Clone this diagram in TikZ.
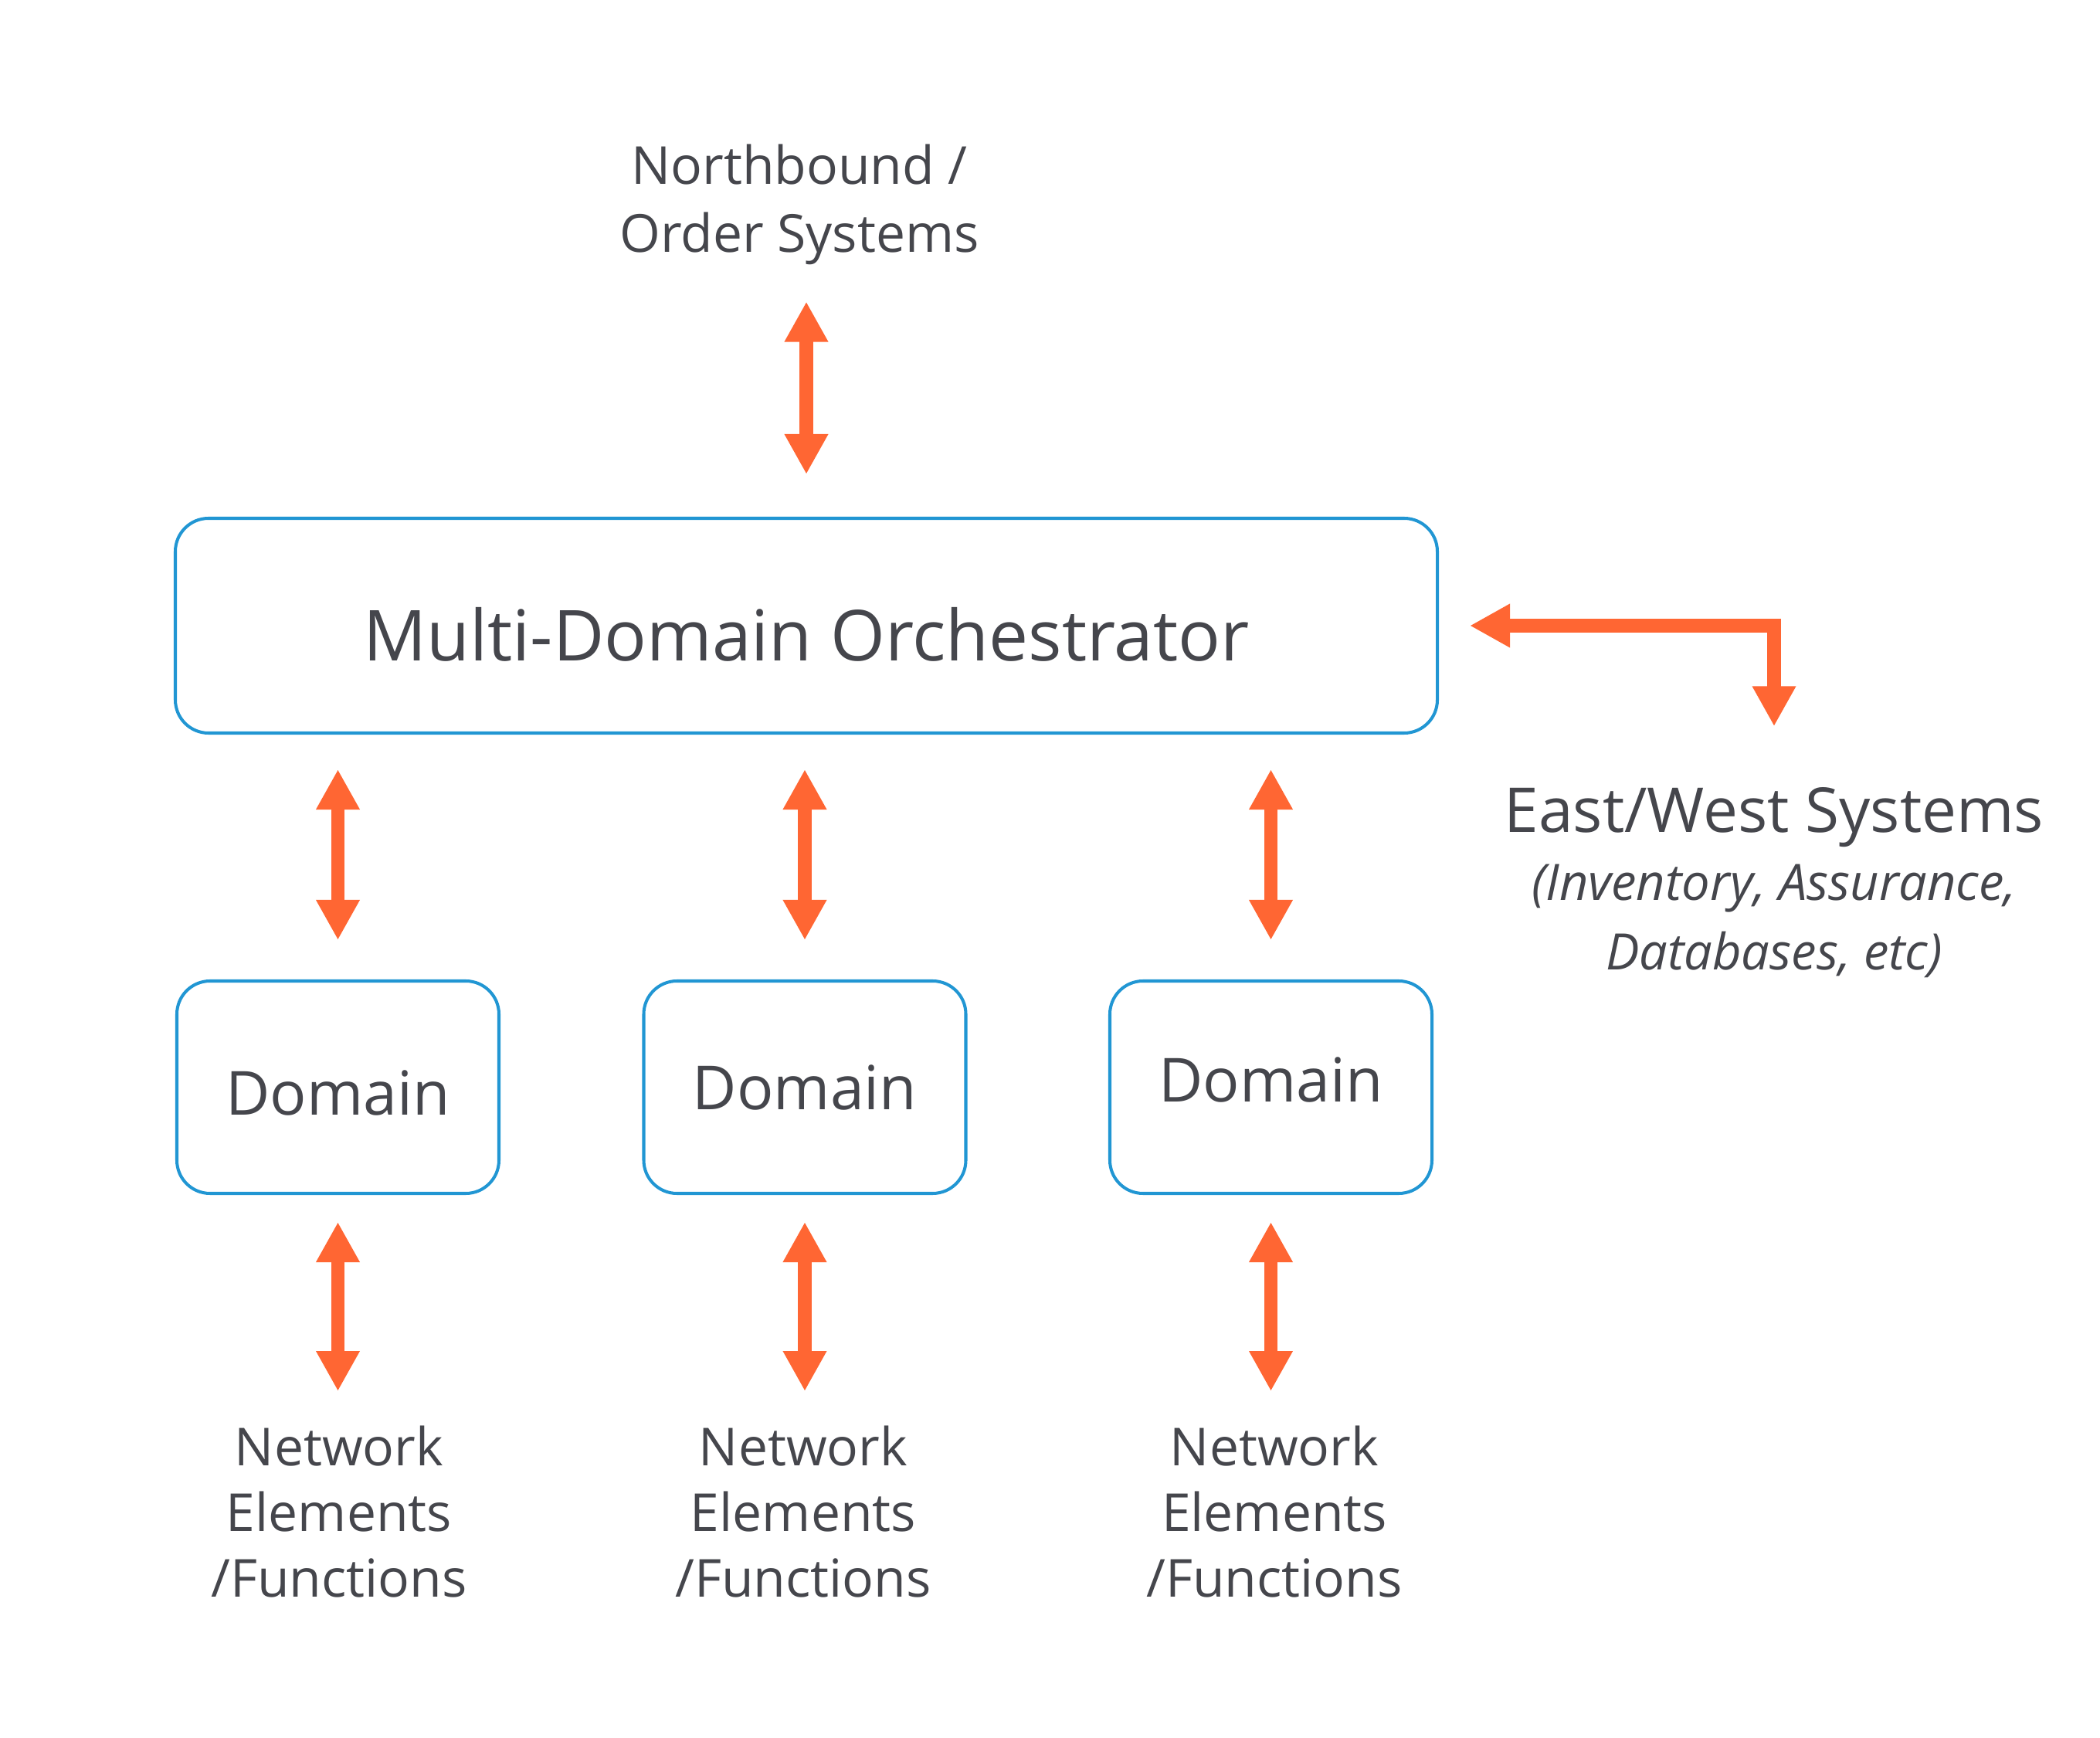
\documentclass[tikz,border=0pt]{standalone}
\usepackage{fontspec}
\setmainfont{Open Sans}
\usetikzlibrary{arrows.meta}
\definecolor{mdoblue}{HTML}{2196D3}
\definecolor{mdoorange}{HTML}{FF6633}
\definecolor{mdotext}{HTML}{45464C}
\tikzset{
  sysbox/.style={draw=mdoblue, line width=1.15pt, rounded corners=0.43cm,
    text=mdotext, inner sep=0pt},
  dombox/.style={sysbox, minimum width=4.17cm, minimum height=2.75cm,
    font=\fontsize{22.4}{26}\selectfont},
  biarrow/.style={draw=mdoorange, line width=5.1pt,
    {Triangle[length=5.2mm,width=5.3mm]}-{Triangle[length=5.2mm,width=5.3mm]}},
  lbl/.style={text=mdotext, align=center, inner sep=0pt},
  netlbl/.style={lbl, anchor=north, font=\fontsize{19.3}{24.2}\selectfont}
}
\begin{document}
\begin{tikzpicture}[y=-1cm]
  \useasboundingbox (0,0) rectangle (27.19,22.5);
  % orchestrator and domains
  \path (10.44,8.10) node[sysbox, minimum width=16.34cm, minimum height=2.78cm,
    text height=0.92cm, text depth=0cm,
    font=\fontsize{25.9}{30}\selectfont] (orch) {Multi-Domain Orchestrator};
  \path (4.375,14.075) node[dombox, text height=0.72cm] (dom1) {Domain};
  \path (10.42,14.075) node[dombox] (dom2) {Domain};
  \path (16.455,14.075) node[dombox, text depth=0.2cm] (dom3) {Domain};
  % labels
  \path (10.35,2.65) node[lbl, font=\fontsize{19.3}{25}\selectfont] (north)
    {Northbound /\\Order Systems};
  \path (22.97,10.78) node[lbl, anchor=base, font=\fontsize{22.8}{26}\selectfont] (ew)
    {East/West Systems};
  \path (22.97,11.18) node[lbl, anchor=north, font=\fontsize{18.5}{25.6}\selectfont\itshape] (ewnote)
    {(Inventory, Assurance,\\Databases, etc)};
  \path (4.39,18.45) node[netlbl] (net1) {Network\\Elements\\/Functions};
  \path (10.40,18.45) node[netlbl] (net2) {Network\\Elements\\/Functions};
  \path (16.50,18.45) node[netlbl] (net3) {Network\\Elements\\/Functions};
  % arrows
  \draw[biarrow, shorten <=0.55cm, shorten >=0.47cm] (orch.north) -- (orch.north |- north.south);
  \draw[biarrow, shorten <=0.40cm, shorten >=0.79cm] (orch.east) -| (ew.north);
  \draw[biarrow, shorten <=0.51cm, shorten >=0.45cm] (dom1.north) -- (dom1.north |- orch.south);
  \draw[biarrow, shorten <=0.51cm, shorten >=0.45cm] (dom2.north) -- (dom2.north |- orch.south);
  \draw[biarrow, shorten <=0.51cm, shorten >=0.45cm] (dom3.north) -- (dom3.north |- orch.south);
  \draw[biarrow, shorten <=0.35cm, shorten >=0.44cm] (dom1.south) -- (dom1.south |- net1.north);
  \draw[biarrow, shorten <=0.35cm, shorten >=0.44cm] (dom2.south) -- (dom2.south |- net2.north);
  \draw[biarrow, shorten <=0.35cm, shorten >=0.44cm] (dom3.south) -- (dom3.south |- net3.north);
\end{tikzpicture}
\end{document}
